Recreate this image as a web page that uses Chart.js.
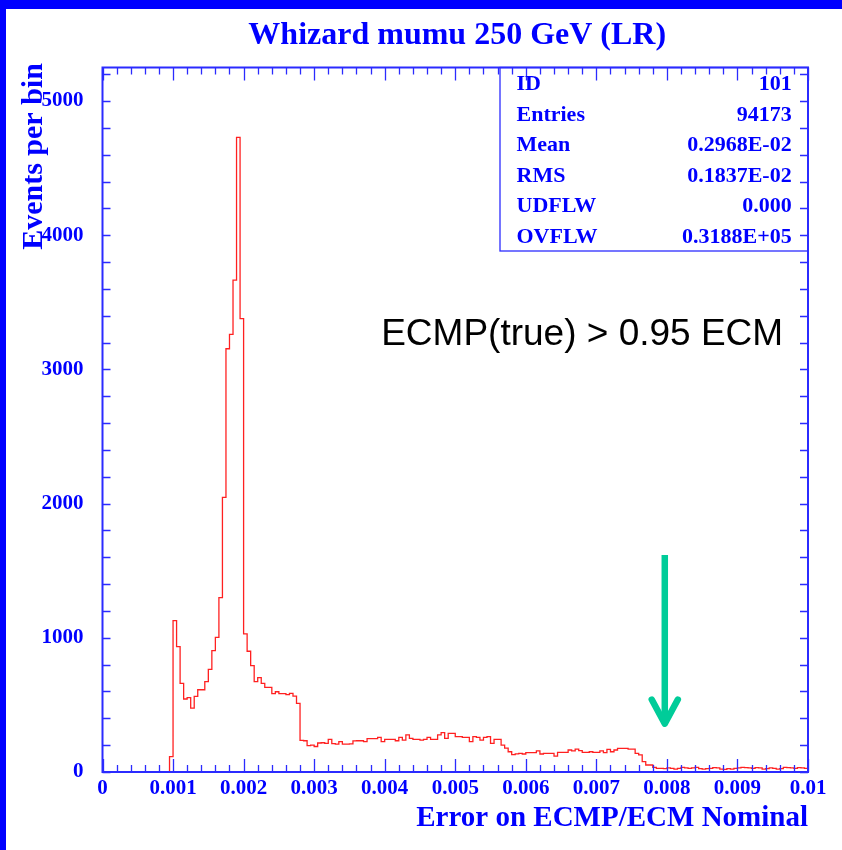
<!DOCTYPE html>
<html>
<head>
<meta charset="utf-8">
<script src="https://cdn.jsdelivr.net/npm/chart.js@4.4.1/dist/chart.umd.min.js"></script>
<style>
  html, body { margin: 0; padding: 0; background: #fff; }
  #wrap { width: 842px; height: 850px; }
</style>
</head>
<body>
<div id="wrap"><canvas id="hist" width="842" height="850"></canvas></div>
<script>
// histogram 101: 200 bins of 0.00005 between 0 and 0.01
const xMin = 0;
const xMax = 0.01;
const binWidth = 0.00005;

const binCounts = [
  0, 0, 0, 0, 0, 0, 0, 0, 0, 0,
  0, 0, 0, 0, 0, 0, 0, 0, 0, 114,
  1128, 934, 661, 544, 554, 476, 563, 613, 613, 673,
  765, 905, 1003, 1300, 2046, 3154, 3261, 3666, 4730, 3379,
  1030, 900, 792, 673, 703, 661, 631, 631, 584, 598,
  584, 584, 576, 586, 566, 512, 236, 233, 196, 201,
  190, 216, 218, 214, 243, 212, 207, 226, 208, 208,
  210, 232, 233, 233, 226, 248, 248, 248, 258, 226,
  243, 243, 243, 233, 258, 238, 276, 251, 243, 243,
  238, 243, 258, 243, 243, 276, 293, 251, 288, 288,
  263, 263, 258, 258, 226, 263, 258, 238, 258, 263,
  214, 243, 243, 201, 178, 151, 130, 135, 139, 134,
  144, 144, 144, 157, 134, 139, 139, 139, 119, 146,
  146, 146, 164, 157, 171, 159, 146, 146, 151, 146,
  146, 157, 144, 169, 151, 164, 176, 176, 176, 171,
  171, 139, 127, 77, 52, 52, 35, 27, 27, 25,
  30, 27, 22, 27, 35, 30, 27, 30, 35, 25,
  22, 25, 27, 32, 30, 22, 20, 25, 22, 27,
  30, 35, 32, 30, 27, 32, 30, 22, 25, 30,
  27, 22, 25, 35, 32, 30, 27, 32, 30, 27
];

const xTickLabels = ['0', '0.001', '0.002', '0.003', '0.004', '0.005', '0.006', '0.007', '0.008', '0.009', '0.01'];
const yTickLabels = ['0', '1000', '2000', '3000', '4000', '5000'];
const yMax = 5250;

const statLabels = ['ID', 'Entries', 'Mean', 'RMS', 'UDFLW', 'OVFLW'];
const statValues = ['101', '94173', '0.2968E-02', '0.1837E-02', '0.000', '0.3188E+05'];

const titleText = 'Whizard mumu 250 GeV (LR)';
const xTitle = 'Error on ECMP/ECM Nominal';
const yTitle = 'Events per bin';
const cutText = 'ECMP(true) > 0.95 ECM';
const arrowX = 0.00797;

const ink = '#0000ff';
const axisInk = '#2b2bff';
const serif = '"Liberation Serif", "Times New Roman", serif';
const sans = '"Liberation Sans", Arial, sans-serif';

// left bin edges, plus the upper edge so the last bin gets its step
const points = binCounts.map((c, i) => ({ x: xMin + i * binWidth, y: c }));
points.push({ x: xMax, y: binCounts[binCounts.length - 1] });

const pawFrame = {
  id: 'pawFrame',
  beforeDraw(chart) {
    const ctx = chart.ctx;
    ctx.save();
    ctx.fillStyle = '#ffffff';
    ctx.fillRect(0, 0, chart.width, chart.height);
    ctx.fillStyle = ink;
    ctx.fillRect(0, 0, chart.width, 9);
    ctx.fillRect(0, 0, 6, chart.height);
    ctx.restore();
  },
  afterDatasetsDraw(chart) {
    const { ctx, chartArea: a, scales: { x, y } } = chart;
    ctx.save();

    // frame
    ctx.strokeStyle = axisInk;
    ctx.lineWidth = 2;
    ctx.strokeRect(a.left, a.top, a.right - a.left, a.bottom - a.top);

    // ticks pointing inwards on all four sides
    ctx.lineWidth = 1.3;
    ctx.beginPath();
    for (let k = 0; k <= 50; k++) {
      const px = Math.round(x.getPixelForValue(k * 0.0002)) + 0.5;
      const len = k % 5 === 0 ? 13 : 7;
      ctx.moveTo(px, a.bottom); ctx.lineTo(px, a.bottom - len);
      ctx.moveTo(px, a.top); ctx.lineTo(px, a.top + len);
    }
    for (let v = 0; v <= yMax; v += 200) {
      const py = Math.round(y.getPixelForValue(v)) + 0.5;
      ctx.moveTo(a.left, py); ctx.lineTo(a.left + 8, py);
      ctx.moveTo(a.right, py); ctx.lineTo(a.right - 8, py);
    }
    ctx.stroke();

    // stats box
    const boxLeft = a.right - 308;
    const boxBottom = a.top + 183.5;
    ctx.lineWidth = 1.3;
    ctx.strokeRect(boxLeft, a.top, a.right - boxLeft, boxBottom - a.top);
    ctx.fillStyle = ink;
    ctx.font = 'bold 22px ' + serif;
    ctx.textBaseline = 'alphabetic';
    statLabels.forEach((lab, i) => {
      const by = a.top + 22.5 + i * 30.5;
      ctx.textAlign = 'left';
      ctx.fillText(lab, boxLeft + 16.5, by);
      ctx.textAlign = 'right';
      ctx.fillText(statValues[i], a.right - 16.3, by);
    });

    // titles
    ctx.textAlign = 'center';
    ctx.font = 'bold 32px ' + serif;
    ctx.fillText(titleText, (a.left + a.right) / 2 + 2, 44);
    ctx.textAlign = 'right';
    ctx.font = 'bold 29px ' + serif;
    ctx.fillText(xTitle, a.right, 826);
    ctx.save();
    ctx.translate(41.7, a.top + 89);
    ctx.rotate(-Math.PI / 2);
    ctx.textAlign = 'center';
    ctx.font = 'bold 30px ' + serif;
    ctx.fillText(yTitle, 0, 0);
    ctx.restore();

    // selection note
    ctx.fillStyle = '#000000';
    ctx.textAlign = 'left';
    ctx.font = '37px ' + sans;
    ctx.fillText(cutText, x.getPixelForValue(0.00395), y.getPixelForValue(3180));

    // arrow marking the cut
    const ax = x.getPixelForValue(arrowX);
    const tipY = y.getPixelForValue(360);
    const wingY = y.getPixelForValue(540);
    const wing = x.getPixelForValue(arrowX + 0.000185) - ax;
    ctx.strokeStyle = '#00cc99';
    ctx.lineWidth = 6.5;
    ctx.lineCap = 'butt';
    ctx.beginPath();
    ctx.moveTo(ax, y.getPixelForValue(1617));
    ctx.lineTo(ax, tipY);
    ctx.stroke();
    ctx.lineCap = 'round';
    ctx.lineJoin = 'round';
    ctx.beginPath();
    ctx.moveTo(ax - wing, wingY);
    ctx.lineTo(ax, tipY);
    ctx.lineTo(ax + wing, wingY);
    ctx.stroke();

    ctx.restore();
  }
};

const tickFont = { family: serif, size: 21, weight: 'bold' };

new Chart(document.getElementById('hist'), {
  type: 'line',
  data: {
    datasets: [{
      data: points,
      stepped: 'before',
      borderColor: '#ff2020',
      borderWidth: 1.3,
      pointRadius: 0,
      fill: false
    }]
  },
  options: {
    responsive: false,
    animation: false,
    devicePixelRatio: 1,
    layout: { padding: { left: 0, right: 34, top: 67.5, bottom: 0 } },
    plugins: { legend: { display: false }, tooltip: { enabled: false }, title: { display: false } },
    scales: {
      x: {
        type: 'linear',
        min: xMin,
        max: xMax,
        afterFit(s) { s.height = 78; },
        afterBuildTicks(s) { s.ticks = xTickLabels.map(t => ({ value: Number(t) })); },
        grid: { display: false, drawTicks: false },
        border: { display: false },
        ticks: {
          color: ink, font: tickFont, padding: 4, maxRotation: 0, autoSkip: false,
          callback: (v, i) => xTickLabels[i]
        }
      },
      y: {
        type: 'linear',
        min: 0,
        max: yMax,
        afterFit(s) { s.width = 102.5; },
        afterBuildTicks(s) { s.ticks = yTickLabels.map(t => ({ value: Number(t) })); },
        grid: { display: false, drawTicks: false },
        border: { display: false },
        ticks: {
          color: ink, font: tickFont, padding: 19, autoSkip: false,
          callback: (v, i) => yTickLabels[i]
        }
      }
    }
  },
  plugins: [pawFrame]
});
</script>
</body>
</html>
